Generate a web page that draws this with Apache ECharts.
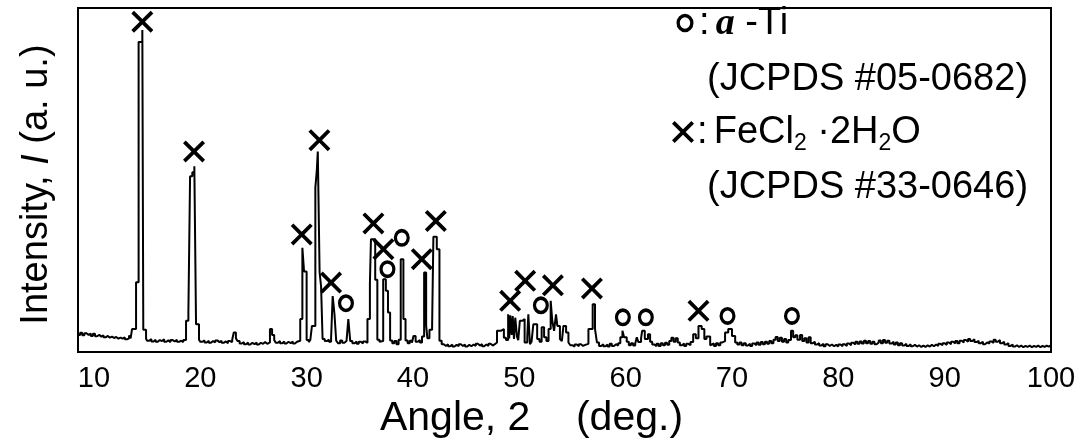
<!DOCTYPE html>
<html>
<head>
<meta charset="utf-8">
<script src="https://cdn.jsdelivr.net/npm/echarts@6/dist/echarts.min.js"></script>
<style>
html,body{margin:0;padding:0;background:#fff;}
#chart{width:1081px;height:444px;}
</style>
</head>
<body>
<div id="chart"></div>
<script>
// XRD scan: [2-theta (deg.), intensity (a.u., 0-100 scale)] — step levels
const xrdScan = [
[8.5,5.0],[8.7,5.6],[8.9,4.9],[9.1,5.5],[9.3,5.0],[9.5,5.4],[9.7,4.7],[9.9,5.3],[10.1,4.6],[10.3,5.0],
[10.5,4.5],[10.7,4.9],[10.9,4.3],[11.1,4.7],[11.3,4.2],[11.5,4.5],[11.7,4.1],[11.9,4.4],[12.1,3.9],[12.3,4.2],
[12.5,3.9],[12.7,4.3],[12.9,3.7],[13.1,4.0],[13.3,4.8],[13.45,4.0],
[13.58,6.7],[13.96,20.3],[14.2,90.1],[14.55,93.6],[14.64,6.5],[14.9,3.9],
[15.0,3.3],[15.2,3.8],[15.4,3.1],[15.6,3.6],[15.8,3.0],[16.0,3.5],[16.2,3.2],[16.4,3.7],[16.6,3.0],[16.8,3.4],
[17.0,2.9],[17.2,3.5],[17.4,3.1],[17.6,3.6],[17.8,3.0],[18.0,3.3],[18.2,2.9],[18.4,3.5],
[18.66,9.1],[18.88,11.5],[19.04,51.1],[19.25,52.3],[19.44,54.0],[19.6,8.1],[19.88,3.6],
[20.0,3.0],[20.2,3.4],[20.4,2.8],[20.6,3.3],[20.8,2.7],[21.0,3.2],[21.2,2.8],[21.4,3.4],[21.6,2.9],[21.8,3.3],
[22.0,2.7],[22.2,3.1],[22.4,2.6],[22.6,3.2],[22.8,2.9],[23.0,3.6],[23.15,5.7],[23.35,4.0],[23.5,3.2],[23.7,2.5],
[23.9,2.9],[24.1,2.3],[24.3,2.8],[24.5,2.2],[24.7,2.7],[24.9,2.3],[25.1,2.8],[25.3,2.2],[25.5,2.7],[25.7,2.4],
[25.9,2.9],[26.1,2.4],[26.3,2.8],[26.55,6.7],[26.75,5.0],[26.95,3.5],[27.1,2.7],[27.3,3.2],[27.5,2.6],[27.7,3.1],
[27.9,2.5],[28.1,3.0],[28.3,2.6],[28.5,3.1],[28.7,2.5],[28.9,3.0],[29.1,2.7],[29.25,3.3],
[29.4,9.6],[29.6,30.3],[29.76,23.4],[30.0,3.5],[30.2,2.9],[30.35,3.6],[30.5,7.6],[30.82,47.8],[30.95,52.5],
[31.05,58.3],[31.22,23.2],[31.36,19.0],[31.5,3.8],[31.7,3.2],[31.9,3.6],[32.1,3.0],[32.3,4.0],
[32.45,16.3],[32.62,11.0],[32.78,3.3],[32.95,2.6],[33.15,3.4],[33.35,2.7],[33.55,3.2],[33.75,2.8],[33.92,9.6],
[34.1,3.2],[34.3,2.6],[34.5,3.1],[34.7,2.4],[34.9,3.0],[35.1,2.5],[35.3,3.1],[35.5,2.7],
[35.72,9.6],[35.95,20.0],[36.05,32.8],[36.45,21.0],[36.65,3.6],[36.85,3.0],[37.0,3.2],
[37.2,21.2],[37.45,17.8],[37.65,11.5],[37.85,3.4],[38.05,2.6],[38.25,3.2],[38.45,2.3],[38.65,3.6],
[38.85,27.0],[39.1,9.6],[39.3,3.4],[39.5,2.6],[39.7,3.3],[39.9,2.7],[40.05,4.7],[40.25,3.0],[40.45,3.5],
[40.65,2.8],[40.85,4.5],[41.05,23.1],[41.24,7.6],[41.36,4.0],[41.55,6.5],[41.8,7.5],
[41.92,33.5],[42.24,29.9],[42.49,3.3],[42.7,2.3],
[42.9,1.8],[43.1,2.3],[43.3,1.7],[43.5,2.2],[43.7,1.6],[43.9,2.1],[44.1,1.7],[44.3,2.3],[44.5,1.8],[44.7,2.2],
[44.9,1.6],[45.1,2.1],[45.3,1.7],[45.5,2.2],[45.7,1.8],[45.9,2.4],[46.1,1.9],[46.3,2.3],[46.5,1.7],[46.7,2.2],
[46.9,1.8],[47.1,2.4],[47.3,1.9],[47.5,2.3],[47.7,2.8],
[47.9,6.2],[48.25,6.7],[48.55,4.2],[48.75,3.5],[48.95,11.0],[49.05,4.0],[49.15,10.7],[49.28,5.0],[49.38,10.5],
[49.5,3.8],[49.62,10.0],[49.78,4.5],[49.9,3.5],[50.05,9.1],[50.3,9.6],[50.5,2.8],[50.75,4.5],[50.85,11.0],
[51.0,2.3],[51.15,3.0],[51.32,8.1],[51.68,3.8],[51.9,3.0],[52.1,7.2],[52.33,4.3],[52.55,3.2],[52.75,6.7],
[52.95,14.9],[53.1,9.1],[53.27,6.2],[53.45,11.0],[53.58,7.6],[53.82,3.8],[54.0,3.2],[54.15,7.6],[54.4,5.7],
[54.62,2.8],[54.8,2.0],[55.0,1.6],[55.2,2.2],[55.4,1.7],[55.6,2.3],[55.8,1.8],[56.0,2.1],[56.2,1.6],[56.35,2.4],
[56.5,6.7],[56.9,13.9],[57.12,6.7],[57.3,2.8],[57.5,1.8],[57.7,2.3],[57.9,1.7],[58.1,2.2],[58.3,1.6],[58.5,2.4],
[58.7,1.8],[58.9,2.3],[59.1,1.9],[59.3,2.6],[59.5,4.3],[59.7,6.2],[59.85,4.3],[60.1,3.0],[60.3,2.0],[60.5,2.6],
[60.7,1.9],[60.9,2.5],[61.05,4.3],[61.2,2.9],[61.45,4.0],[61.55,6.2],[61.8,3.8],[62.1,5.2],[62.3,3.0],[62.5,2.2],
[62.7,1.7],[62.9,2.4],[63.1,1.8],[63.3,2.6],[63.5,2.0],[63.7,2.7],[63.9,2.1],[64.1,3.2],[64.3,4.2],[64.5,3.0],
[64.7,4.0],[64.9,2.8],[65.1,2.0],[65.3,2.5],[65.5,1.8],[65.7,2.4],[65.9,2.0],[66.1,2.9],[66.35,5.2],[66.6,4.0],
[66.85,7.6],[67.15,6.7],[67.4,3.8],[67.6,4.5],[67.95,2.0],[68.1,2.5],[68.3,1.8],[68.5,2.6],[68.7,2.0],[68.9,2.8],
[69.1,3.2],[69.35,5.7],[69.65,6.7],[70.0,4.7],[70.3,2.8],[70.5,2.2],[70.7,2.8],[70.9,2.0],[71.1,2.6],[71.3,1.9],
[71.5,2.4],[71.7,1.8],[71.9,2.5],[72.1,2.0],[72.3,2.8],[72.5,2.1],[72.7,2.9],[72.9,2.3],[73.1,3.0],[73.3,2.4],
[73.5,3.2],[73.7,2.6],[73.9,3.6],[74.1,4.4],[74.3,3.2],[74.5,4.2],[74.7,3.0],[74.9,3.8],[75.1,2.8],[75.3,3.5],
[75.55,6.2],[75.75,4.3],[75.95,4.9],[76.15,3.6],[76.4,5.0],[76.6,3.2],[76.8,4.0],[77.0,2.8],[77.2,4.3],[77.4,2.6],
[77.6,3.0],[77.8,2.2],[78.0,2.6],[78.2,1.9],[78.4,2.4],[78.6,1.7],[78.8,2.3],[79.0,1.8],[79.2,2.2],[79.4,1.7],
[79.6,2.1],[79.8,1.6],[80.0,2.2],[80.2,1.7],[80.4,2.3],[80.6,1.8],[80.8,2.5],[81.0,2.0],[81.2,2.7],[81.4,2.2],
[81.6,3.0],[81.8,2.4],[82.0,3.1],[82.2,2.5],[82.4,3.3],[82.6,2.6],[82.8,3.2],[83.0,2.4],[83.2,3.0],[83.4,2.3],
[83.6,2.8],[83.8,3.4],[84.0,2.6],[84.2,3.5],[84.4,2.7],[84.6,3.3],[84.8,2.5],[85.0,3.0],[85.2,2.2],[85.4,2.8],
[85.6,2.0],[85.8,2.6],[86.0,1.9],[86.2,2.4],[86.4,1.8],[86.6,2.3],[86.8,1.7],[87.0,2.1],[87.2,1.6],[87.4,2.0],
[87.6,1.5],[87.8,1.9],[88.0,1.5],[88.2,2.0],[88.4,1.6],[88.6,2.1],[88.8,1.7],[89.0,2.2],[89.2,1.8],[89.4,2.4],
[89.6,2.0],[89.8,2.6],[90.0,2.1],[90.2,2.8],[90.4,2.3],[90.6,3.0],[90.8,2.5],[91.0,3.2],[91.2,2.6],[91.4,3.3],
[91.6,2.8],[91.8,3.5],[92.0,3.0],[92.2,3.8],[92.4,3.2],[92.6,3.7],[92.8,2.9],[93.0,3.3],[93.2,2.6],[93.4,3.0],
[93.6,2.3],[93.8,2.8],[94.0,2.5],[94.2,3.1],[94.4,2.7],[94.6,3.6],[94.8,3.0],[95.0,3.5],[95.2,2.6],[95.4,3.0],
[95.6,2.2],[95.8,2.6],[96.0,1.8],[96.2,2.2],[96.4,1.6],[96.6,2.0],[96.8,1.5],[97.0,1.9],[97.2,1.4],[97.4,1.8],
[97.6,1.5],[97.8,1.9],[98.0,1.4],[98.2,1.8],[98.4,1.5],[98.6,1.9],[98.8,1.4],[99.0,1.8],[99.2,1.5],[99.4,1.9],
[99.6,1.6],[99.8,2.0],[100,1.6]
];

// Phase markers [2-theta, label height]
const feclMarks = [[14.55,96.0],[19.41,58.3],[29.54,34.2],[31.2,61.6],[32.3,20.2],[36.28,37.4],[37.22,29.9],
  [40.83,27.0],[42.15,38.1],[49.14,14.9],[50.55,20.7],[53.16,19.4],[56.83,18.5],[66.85,12.0]];
const tiMarks = [[33.7,14.2],[37.6,24.1],[38.95,33.2],[52.03,13.6],[59.74,10.1],[61.9,10.1],[69.58,10.5],[75.64,10.5]];

const xTickValues = [10,20,30,40,50,60,70,80,90,100];
const xAxisTitle = 'Angle, 2    (deg.)';
const yAxisTitle = 'Intensity, {it|I} (a. u.)';
const legendLines = ['{n|:}{g| }{it|a}{n| -Ti}', '(JCPDS #05-0682)', '{n|:}{g| }{n|FeCl}{s|2}{n| \u00B72H}{s|2}{n|O}', '(JCPDS #33-0646)'];

const crossPts = [[2.4,0],[10,7.6],[17.6,0],[20,2.4],[12.4,10],[20,17.6],[17.6,20],[10,12.4],[2.4,20],[0,17.6],[7.6,10],[0,2.4]];
const crossPath = 'M' + crossPts.map(p => p.join(',')).join('L') + 'Z';
const ringPath = 'M0,10A10,10,0,1,1,20,10A10,10,0,1,1,0,10ZM4,10A6,6,0,1,0,16,10A6,6,0,1,0,4,10Z';

const FONT = '"Liberation Sans", Arial, sans-serif';
const chart = echarts.init(document.getElementById('chart'), null, {renderer: 'canvas'});

const legendText = (txt, x, y) => ({
  type: 'text', x: x, y: y, z: 10,
  style: {
    text: txt, fill: '#000', fontSize: 38, fontFamily: FONT, verticalAlign: 'middle', align: 'left',
    rich: {
      n: {fontSize: 38, fontFamily: FONT, fill: '#000'},
      g: {fontSize: 22, fontFamily: FONT, fill: '#000'},
      it: {fontSize: 38, fontFamily: '"Liberation Serif", "DejaVu Serif", serif', fontStyle: 'italic', fontWeight: 'bold', fill: '#000'},
      s: {fontSize: 23, fontFamily: FONT, fill: '#000', verticalAlign: 'bottom', padding: [22, 0, 0, 0]}
    }
  }
});

chart.setOption({
  animation: false,
  backgroundColor: '#fff',
  grid: {left: 78, right: 30, top: 8, bottom: 91, show: true, borderColor: '#000', borderWidth: 2, backgroundColor: 'transparent'},
  xAxis: {
    type: 'value', min: 8.5, max: 100,
    axisLine: {show: false}, axisTick: {show: false}, splitLine: {show: false},
    axisLabel: {customValues: xTickValues, color: '#000', fontSize: 29, fontFamily: FONT, margin: 12},
    name: xAxisTitle, nameLocation: 'middle', nameGap: 43,
    nameTextStyle: {color: '#000', fontSize: 41, fontFamily: FONT, padding: [0, 66, 0, 0]}
  },
  yAxis: {
    type: 'value', min: 0, max: 100,
    axisLine: {show: false}, axisTick: {show: false}, splitLine: {show: false}, axisLabel: {show: false},
    name: yAxisTitle, nameLocation: 'middle', nameRotate: 90, nameGap: 22,
    nameTextStyle: {color: '#000', fontSize: 38, fontFamily: FONT, padding: [0, 9, 0, 0],
      rich: {it: {fontStyle: 'italic', fontSize: 38, fontFamily: FONT, color: '#000'}}}
  },
  series: [
    {type: 'line', data: xrdScan, step: 'end', showSymbol: false, symbol: 'none',
     lineStyle: {color: '#000', width: 2}, z: 2},
    {type: 'scatter', data: feclMarks, symbol: 'path://' + crossPath, symbolSize: [22, 22],
     itemStyle: {color: '#000', opacity: 1}, z: 5},
    {type: 'scatter', data: tiMarks, symbol: 'path://' + ringPath, symbolSize: [16, 18],
     itemStyle: {color: '#000', opacity: 1}, z: 5}
  ],
  graphic: [
    {type: 'ring', x: 685, y: 23, scaleY: 1.1, shape: {cx: 0, cy: 0, r: 8.5, r0: 5.2}, style: {fill: '#000'}, z: 10},
    legendText(legendLines[0], 699, 24),
    legendText(legendLines[1], 707, 80),
    {type: 'polygon', x: 672, y: 121, scaleX: 1.1, scaleY: 1.1, shape: {points: crossPts}, style: {fill: '#000'}, z: 10},
    legendText(legendLines[2], 697, 133),
    legendText(legendLines[3], 707, 188)
  ]
});
</script>
</body>
</html>
